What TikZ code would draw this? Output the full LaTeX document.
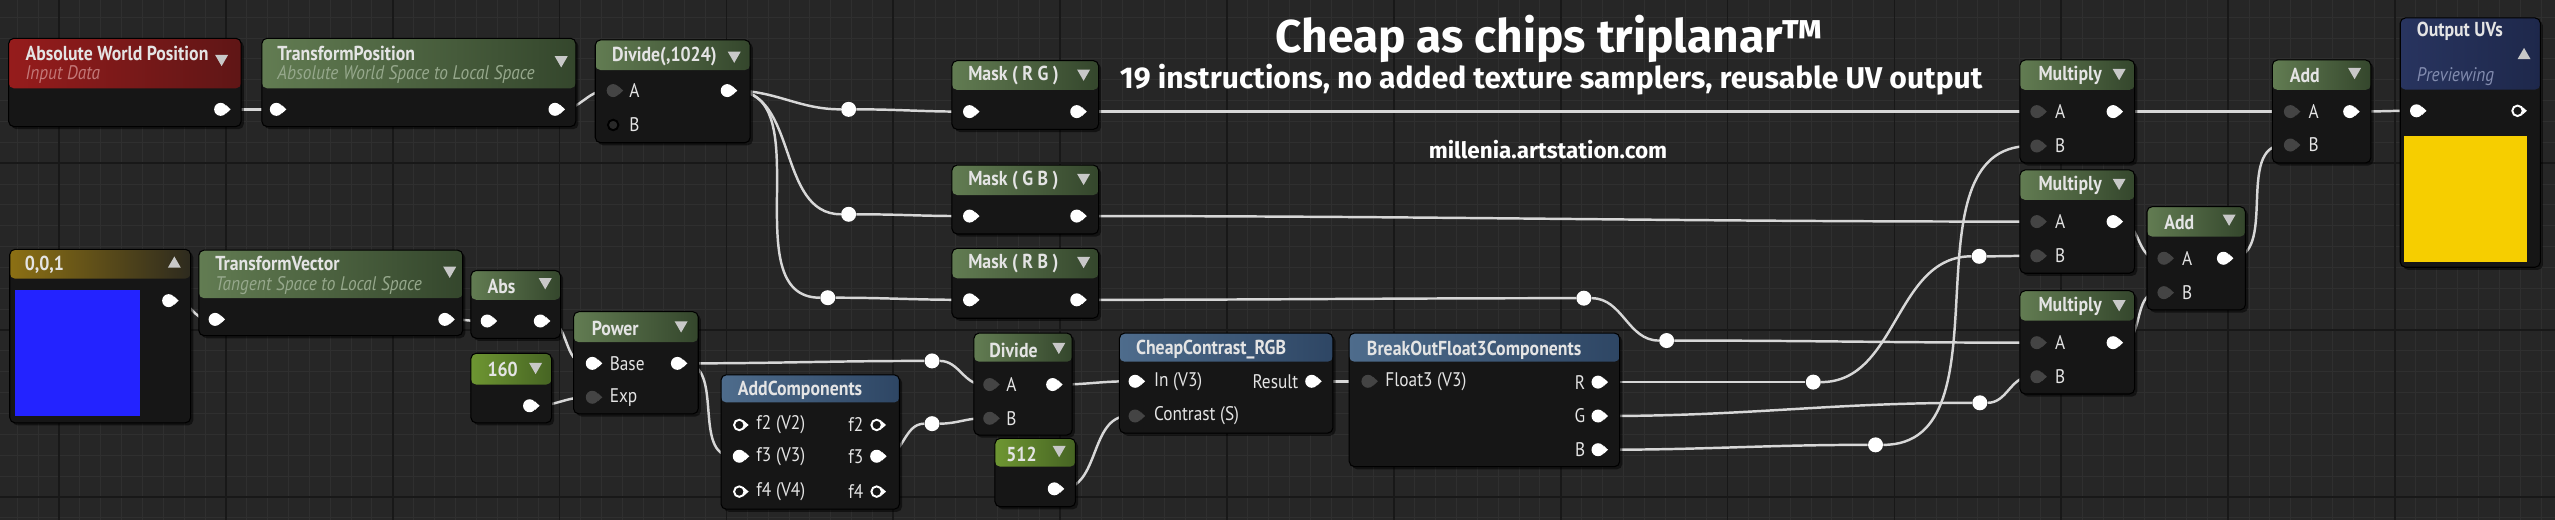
\documentclass[tikz,border=0pt]{standalone}
\usepackage{fontspec}
\newfontfamily\uefont[FakeStretch=0.88]{PT Sans}
\newfontfamily\capfont{Fira Sans}
\usetikzlibrary{fit,shadows,shapes.geometric}
\pgfdeclarelayer{grid layer}
\pgfdeclarelayer{wire layer}
\pgfsetlayers{grid layer,wire layer,main}

\definecolor{canvas}{RGB}{38,38,38}
\definecolor{gridminor}{RGB}{47,47,47}
\definecolor{gridmajor}{RGB}{24,24,24}
\definecolor{nodebody}{RGB}{22,22,22}
\definecolor{greenA}{RGB}{98,124,82}
\definecolor{greenB}{RGB}{52,70,44}
\definecolor{redA}{RGB}{150,28,28}
\definecolor{redB}{RGB}{95,22,22}
\definecolor{blueA}{RGB}{78,108,140}
\definecolor{blueB}{RGB}{46,70,100}
\definecolor{navyA}{RGB}{40,52,95}
\definecolor{navyB}{RGB}{30,40,75}
\definecolor{goldA}{RGB}{140,112,20}
\definecolor{goldB}{RGB}{45,42,30}
\definecolor{limeA}{RGB}{110,150,50}
\definecolor{limeB}{RGB}{70,100,35}
\definecolor{wirecol}{RGB}{215,215,215}
\definecolor{pindark}{RGB}{68,68,68}
\definecolor{labelcol}{RGB}{228,228,228}
\definecolor{subgreen}{RGB}{150,168,140}
\definecolor{subred}{RGB}{195,120,120}
\definecolor{subnavy}{RGB}{130,140,175}
\definecolor{tricol}{RGB}{200,200,200}
\definecolor{previewblue}{RGB}{35,35,255}
\definecolor{previewyellow}{RGB}{246,206,0}

\begin{document}
\begin{tikzpicture}[x=0.0326cm,y=-0.0326cm]
 \tikzset{
  ue node/.style={rectangle,rounded corners=3pt,fill=nodebody,draw=black,line width=0.6pt,inner sep=0pt,
    drop shadow={shadow xshift=1.5pt,shadow yshift=-1.5pt,opacity=0.5,fill=black}},
  hdr/.style n args={3}{path picture={\shade[left color=#1,right color=#2]
    (path picture bounding box.north west) rectangle ([yshift={-#3*0.0326cm}]path picture bounding box.north east);}},
  ue title/.style={anchor=west,inner sep=0pt,text=labelcol,font=\uefont\bfseries\fontsize{11.5}{13}\selectfont},
  ue sub/.style={anchor=west,inner sep=0pt,text=subgreen,font=\uefont\itshape\fontsize{11.2}{13}\selectfont},
  ue label/.style={anchor=west,inner sep=0pt,text=labelcol,font=\uefont\fontsize{11.2}{13}\selectfont},
  nub/.style={append after command={\pgfextra{\fill[#1] (\tikzlastnode.40) -- ([xshift=1.8pt]\tikzlastnode.east) -- (\tikzlastnode.-40) -- cycle;}}},
  white pin/.style={circle,fill=white,inner sep=0pt,minimum size=0.26cm,nub=white},
  dark pin/.style={circle,fill=pindark,inner sep=0pt,minimum size=0.26cm,nub=pindark},
  ring pin/.style={circle,draw=white,line width=1.1pt,fill=nodebody,inner sep=0pt,minimum size=0.21cm,nub=white},
  black ring pin/.style={circle,draw=black,line width=1.1pt,fill=pindark!60!black,inner sep=0pt,minimum size=0.21cm},
  reroute node/.style={circle,fill=white,inner sep=0pt,minimum size=0.3cm},
  down tri/.style={regular polygon,regular polygon sides=3,shape border rotate=180,fill=tricol,inner sep=0pt,minimum size=0.3cm},
  up tri/.style={regular polygon,regular polygon sides=3,fill=tricol,inner sep=0pt,minimum size=0.3cm},
  wire/.style={draw=wirecol,line width=1.4pt,out=0,in=180},
  minor line/.style={draw=gridminor,line width=0.5pt},
  major line/.style={draw=gridmajor,line width=1pt},
  cap/.style={inner sep=0pt,text=white,font=\capfont\bfseries\fontsize{#1}{#1}\selectfont}
 }

 \useasboundingbox (0,0) rectangle (1568,319);
 \begin{pgfonlayer}{grid layer}
  \fill[canvas] (0,0) rectangle (1568,319);
  \foreach \i in {0,...,122}
   \draw[minor line] ({10.6+12.8*\i},0) -- ({10.6+12.8*\i},319);
  \foreach \j in {0,...,24}
   \draw[minor line] (0,{10.5+12.8*\j}) -- (1568,{10.5+12.8*\j});
  \foreach \i in {0,...,15}
   \draw[major line] ({36.2+102.4*\i},0) -- ({36.2+102.4*\i},319);
  \foreach \j in {0,1,2}
   \draw[major line] (0,{100.1+102.4*\j}) -- (1568,{100.1+102.4*\j});
 \end{pgfonlayer}

 % top row
 \node[ue node,hdr={redA}{redB}{30.7},fit={(5.3,23.5) (148,77.7)}] (awp) {};
 \node[ue title] (awp-t) at (15.5,32.7) {Absolute World Position};
 \node[ue sub,text=subred] (awp-s) at (15.5,46) {Input Data};
 \node[down tri] (awp-d) at (136,36) {};
 \node[white pin] (awp-o) at (135.4,67.1) {};

 \node[ue node,hdr={greenA}{greenB}{30.7},fit={(160.7,23.5) (353.4,77.7)}] (tp) {};
 \node[ue title] (tp-t) at (170,32.7) {TransformPosition};
 \node[ue sub] (tp-s) at (170,46) {Absolute World Space to Local Space};
 \node[down tri] (tp-d) at (344.4,36.8) {};
 \node[white pin] (tp-i) at (169.6,67.1) {};
 \node[white pin] (tp-o) at (340.6,67.1) {};

 \node[ue node,hdr={greenA}{greenB}{18.5},fit={(365.3,24.5) (460.4,87.6)}] (d1) {};
 \node[ue title] (d1-t) at (375.4,34.5) {Divide(,1024)};
 \node[down tri] (d1-d) at (450.6,34) {};
 \node[dark pin] (d1-a) at (376.3,55.6) {};
 \node[ue label] (d1-la) at (386,55.6) {A};
 \node[black ring pin] (d1-b) at (376.3,76.7) {};
 \node[ue label] (d1-lb) at (386,76.7) {B};
 \node[white pin] (d1-o) at (446.3,55.6) {};

 \node[reroute node] (rrg) at (520.8,67.1) {};
 \node[reroute node] (rgb) at (520.8,131.5) {};
 \node[reroute node] (rrb) at (508,182.7) {};

 \node[ue node,hdr={greenA}{greenB}{18},fit={(584.2,37.2) (674.2,79.4)}] (mrg) {};
 \node[ue title] (mrg-t) at (594,46.5) {Mask ( R G )};
 \node[down tri] (mrg-d) at (665,45) {};
 \node[white pin] (mrg-i) at (595,68.5) {};
 \node[white pin] (mrg-o) at (660.8,68.5) {};

 \node[ue node,hdr={greenA}{greenB}{18.4},fit={(584.2,101.3) (674.2,143.6)}] (mgb) {};
 \node[ue title] (mgb-t) at (594,110.5) {Mask ( G B )};
 \node[down tri] (mgb-d) at (665,109) {};
 \node[white pin] (mgb-i) at (595,132.6) {};
 \node[white pin] (mgb-o) at (660.8,132.6) {};

 \node[ue node,hdr={greenA}{greenB}{18.4},fit={(584.2,152.4) (674.2,195.3)}] (mrb) {};
 \node[ue title] (mrb-t) at (594,161.5) {Mask ( R B )};
 \node[down tri] (mrb-d) at (665,160) {};
 \node[white pin] (mrb-i) at (595,184) {};
 \node[white pin] (mrb-o) at (660.8,184) {};

 % multiplies and adds
 \node[ue node,hdr={greenA}{greenB}{18.4},fit={(1239.6,36.8) (1310,100)}] (mu1) {};
 \node[ue title] (mu1-t) at (1250.8,46.5) {Multiply};
 \node[down tri] (mu1-d) at (1300.5,44.6) {};
 \node[dark pin] (mu1-a) at (1250,68.5) {};
 \node[ue label] (mu1-la) at (1261,68.5) {A};
 \node[dark pin] (mu1-b) at (1250,89.6) {};
 \node[ue label] (mu1-lb) at (1261,89.6) {B};
 \node[white pin] (mu1-o) at (1296.8,68.5) {};

 \node[ue node,hdr={greenA}{greenB}{18.4},fit={(1239.6,104.3) (1310,167.7)}] (mu2) {};
 \node[ue title] (mu2-t) at (1250.8,114) {Multiply};
 \node[down tri] (mu2-d) at (1300.5,112) {};
 \node[dark pin] (mu2-a) at (1250,136) {};
 \node[ue label] (mu2-la) at (1261,136) {A};
 \node[dark pin] (mu2-b) at (1250,157) {};
 \node[ue label] (mu2-lb) at (1261,157) {B};
 \node[white pin] (mu2-o) at (1296.8,136) {};

 \node[ue node,hdr={greenA}{greenB}{18.4},fit={(1239.6,178.4) (1310,241.8)}] (mu3) {};
 \node[ue title] (mu3-t) at (1250.8,188) {Multiply};
 \node[down tri] (mu3-d) at (1300.5,186.5) {};
 \node[dark pin] (mu3-a) at (1250,210.3) {};
 \node[ue label] (mu3-la) at (1261,210.3) {A};
 \node[dark pin] (mu3-b) at (1250,231.2) {};
 \node[ue label] (mu3-lb) at (1261,231.2) {B};
 \node[white pin] (mu3-o) at (1296.8,210.3) {};

 \node[ue node,hdr={greenA}{greenB}{18.4},fit={(1317.6,126.8) (1378,190.2)}] (ad1) {};
 \node[ue title] (ad1-t) at (1328,136.5) {Add};
 \node[down tri] (ad1-d) at (1368,134) {};
 \node[dark pin] (ad1-a) at (1328,158.5) {};
 \node[ue label] (ad1-la) at (1339,158.5) {A};
 \node[dark pin] (ad1-b) at (1328,179.6) {};
 \node[ue label] (ad1-lb) at (1339,179.6) {B};
 \node[white pin] (ad1-o) at (1364.5,158.5) {};

 \node[ue node,hdr={greenA}{greenB}{18.4},fit={(1394.5,36.8) (1455,100)}] (ad2) {};
 \node[ue title] (ad2-t) at (1405,46.5) {Add};
 \node[down tri] (ad2-d) at (1445,44) {};
 \node[dark pin] (ad2-a) at (1405.6,68.5) {};
 \node[ue label] (ad2-la) at (1416.6,68.5) {A};
 \node[dark pin] (ad2-b) at (1405.6,89) {};
 \node[ue label] (ad2-lb) at (1416.6,89) {B};
 \node[white pin] (ad2-o) at (1442,68.5) {};

 \node[ue node,hdr={navyA}{navyB}{44},fit={(1473,11) (1559,164)}] (uv) {};
 \node[ue title] (uv-t) at (1483,19.5) {Output UVs};
 \node[up tri] (uv-d) at (1549,34) {};
 \node[ue sub,text=subnavy] (uv-s) at (1483,47) {Previewing};
 \node[white pin] (uv-i) at (1483,68) {};
 \node[ring pin] (uv-o) at (1545,68) {};
 \fill[previewyellow] (1475.5,83.5) rectangle (1550.5,161);

 % bottom row
 \node[ue node,hdr={goldA}{goldB}{18},fit={(6,153) (117,259.5)}] (c1) {};
 \node[ue title] (c1-t) at (15,162.5) {0,0,1};
 \node[up tri] (c1-d) at (107,162) {};
 \fill[previewblue] (9,178) rectangle (86,255);
 \node[white pin] (c1-o) at (103.5,184.5) {};

 \node[ue node,hdr={greenA}{greenB}{29.5},fit={(122,153.5) (284,206)}] (tv) {};
 \node[ue title] (tv-t) at (132,161.6) {TransformVector};
 \node[ue sub] (tv-s) at (132,175) {Tangent Space to Local Space};
 \node[down tri] (tv-d) at (276,166) {};
 \node[white pin] (tv-i) at (132,196) {};
 \node[white pin] (tv-o) at (273,196) {};

 \node[ue node,hdr={greenA}{greenB}{18},fit={(289,166) (344,207.6)}] (ab) {};
 \node[ue title] (ab-t) at (299,176) {Abs};
 \node[down tri] (ab-d) at (334.6,173) {};
 \node[white pin] (ab-i) at (299,197) {};
 \node[white pin] (ab-o) at (331.6,197) {};

 \node[ue node,hdr={limeA}{limeB}{19.2},fit={(289,216.8) (338.5,259.5)}] (c2) {};
 \node[ue title] (c2-t) at (299,227) {160};
 \node[down tri] (c2-d) at (328.7,225) {};
 \node[white pin] (c2-o) at (325,249) {};

 \node[ue node,hdr={greenA}{greenB}{18.7},fit={(352,191.3) (428.5,254)}] (pw) {};
 \node[ue title] (pw-t) at (363,201.7) {Power};
 \node[down tri] (pw-d) at (418,199.5) {};
 \node[white pin] (pw-b) at (363.5,223) {};
 \node[ue label] (pw-lb) at (374,223) {Base};
 \node[dark pin] (pw-e) at (363.5,243.8) {};
 \node[ue label] (pw-le) at (374,243.8) {Exp};
 \node[white pin] (pw-o) at (415.7,223) {};

 \node[ue node,hdr={blueA}{blueB}{17},fit={(442.5,230) (552,312.5)}] (ac) {};
 \node[ue title] (ac-t) at (452.6,239.8) {AddComponents};
 \node[ring pin] (ac-i2) at (453.7,260.8) {};
 \node[white pin] (ac-i3) at (453.7,280) {};
 \node[ring pin] (ac-i4) at (453.7,301.7) {};
 \node[ue label] (ac-l2) at (464,260.8) {f2 (V2)};
 \node[ue label] (ac-l3) at (464,280) {f3 (V3)};
 \node[ue label] (ac-l4) at (464,301.7) {f4 (V4)};
 \node[ring pin] (ac-o2) at (538,260.8) {};
 \node[white pin] (ac-o3) at (538,280) {};
 \node[ring pin] (ac-o4) at (538,301.7) {};
 \node[ue label,anchor=east] (ac-r2) at (530,260.8) {f2};
 \node[ue label,anchor=east] (ac-r3) at (530,280) {f3};
 \node[ue label,anchor=east] (ac-r4) at (530,301.7) {f4};

 \node[reroute node] (rpw) at (572,221.5) {};
 \node[reroute node] (rf3) at (572,260) {};

 \node[ue node,hdr={greenA}{greenB}{17.6},fit={(597.7,204.4) (658,267)}] (dv) {};
 \node[ue title] (dv-t) at (607,214.8) {Divide};
 \node[down tri] (dv-d) at (649.8,212.7) {};
 \node[dark pin] (dv-a) at (607.4,236) {};
 \node[ue label] (dv-la) at (617.4,236) {A};
 \node[dark pin] (dv-b) at (607.4,256.7) {};
 \node[ue label] (dv-lb) at (617.4,256.7) {B};
 \node[white pin] (dv-o) at (646,236) {};

 \node[ue node,hdr={limeA}{limeB}{17.4},fit={(610.6,269) (660,311)}] (c3) {};
 \node[ue title] (c3-t) at (617.4,278.6) {512};
 \node[down tri] (c3-d) at (650,276) {};
 \node[white pin] (c3-o) at (647,300) {};

 \node[ue node,hdr={blueA}{blueB}{17.6},fit={(687,204.4) (818,265.8)}] (cc) {};
 \node[ue title] (cc-t) at (697,214.8) {CheapContrast\_RGB};
 \node[white pin] (cc-i) at (696.6,234) {};
 \node[ue label] (cc-li) at (708,234) {In (V3)};
 \node[dark pin] (cc-c) at (696.6,255.3) {};
 \node[ue label] (cc-lc) at (708,255.3) {Contrast (S)};
 \node[white pin] (cc-o) at (805,234) {};
 \node[ue label,anchor=east] (cc-lo) at (797,234) {Result};

 \node[ue node,hdr={blueA}{blueB}{17.6},fit={(828,204.4) (994,286.4)}] (bo) {};
 \node[ue title] (bo-t) at (838.7,214.8) {BreakOutFloat3Components};
 \node[dark pin] (bo-i) at (839.5,234) {};
 \node[ue label] (bo-li) at (850,234) {Float3 (V3)};
 \node[white pin] (bo-r) at (980.7,234.5) {};
 \node[white pin] (bo-g) at (980.7,255.3) {};
 \node[white pin] (bo-b) at (980.7,276) {};
 \node[ue label,anchor=east] (bo-lr) at (973,234.5) {R};
 \node[ue label,anchor=east] (bo-lg) at (973,255.3) {G};
 \node[ue label,anchor=east] (bo-lb) at (973,276) {B};

 \node[reroute node] (rr1) at (1112.8,234.5) {};
 \node[reroute node] (rr2) at (1214.6,157.3) {};
 \node[reroute node] (rg) at (1215,247.2) {};
 \node[reroute node] (rb) at (1151,273) {};
 \node[reroute node] (rm1) at (972,183) {};
 \node[reroute node] (rm2) at (1022.8,209) {};

 % captions
 \node[cap=26.2,anchor=base] (cap1) at (951,32) {Cheap as chips triplanar™};
 \node[cap=17.1,anchor=base] (cap2) at (952,54.5) {19 instructions, no added texture samplers, reusable UV output};
 \node[cap=12.8,anchor=base] (cap3) at (950,97) {millenia.artstation.com};

 \begin{pgfonlayer}{wire layer}
  \path (awp-o) edge[wire] (tp-i);
  \path (tp-o) edge[wire] (d1-a);
  \path (d1-o) edge[wire] (rrg);
  \path (d1-o) edge[wire] (rgb);
  \path (d1-o) edge[wire] (rrb);
  \path (rrg) edge[wire] (mrg-i);
  \path (rgb) edge[wire] (mgb-i);
  \path (rrb) edge[wire] (mrb-i);
  \path (mrg-o) edge[wire] (mu1-a);
  \path (mgb-o) edge[wire] (mu2-a);
  \path (mrb-o) edge[wire] (rm1);
  \path (rm1) edge[wire] (rm2);
  \path (rm2) edge[wire] (mu3-a);
  \path (c1-o) edge[wire] (tv-i);
  \path (tv-o) edge[wire] (ab-i);
  \path (ab-o) edge[wire] (pw-b);
  \path (c2-o) edge[wire] (pw-e);
  \path (pw-o) edge[wire] (rpw);
  \path (pw-o) edge[wire] (ac-i3);
  \path (rpw) edge[wire] (dv-a);
  \path (ac-o3) edge[wire] (rf3);
  \path (rf3) edge[wire] (dv-b);
  \path (dv-o) edge[wire] (cc-i);
  \path (c3-o) edge[wire] (cc-c);
  \path (cc-o) edge[wire] (bo-i);
  \path (bo-r) edge[wire] (rr1);
  \path (rr1) edge[wire] (rr2);
  \path (rr2) edge[wire] (mu2-b);
  \path (bo-g) edge[wire] (rg);
  \path (rg) edge[wire] (mu3-b);
  \path (bo-b) edge[wire] (rb);
  \path (rb) edge[wire] (mu1-b);
  \path (mu1-o) edge[wire] (ad2-a);
  \path (mu2-o) edge[wire] (ad1-a);
  \path (mu3-o) edge[wire] (ad1-b);
  \path (ad1-o) edge[wire] (ad2-b);
  \path (ad2-o) edge[wire] (uv-i);
 \end{pgfonlayer}
\end{tikzpicture}
\end{document}
